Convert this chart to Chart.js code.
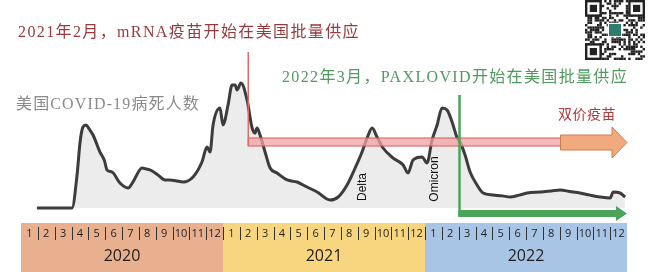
<!DOCTYPE html>
<html>
<head>
<meta charset="utf-8">
<script src="https://cdn.jsdelivr.net/npm/chart.js@4"></script>
<style>
  html, body { margin: 0; padding: 0; background: #fff; }
  canvas { display: block; }
</style>
</head>
<body>
<canvas id="deathChart" width="650" height="272"></canvas>
<script>
// x = months since Jan 2020 (0 = start of Jan 2020), y = US COVID-19 deaths per day (7-day avg)
const monthPos = [0.95, 3.03, 3.33, 3.51, 3.68, 3.86, 4.05, 4.28, 4.69, 4.95, 5.11, 5.41, 5.88, 6.36, 6.65,
  7.19, 7.45, 7.66, 8.14, 8.56, 8.85, 9.2, 9.63, 10.22, 10.75, 11.05, 11.23, 11.41, 11.82, 12.0, 12.3,
  12.54, 12.72, 12.83, 13.07, 13.43, 13.73, 13.9, 14.02, 14.2, 14.5, 14.8, 15.21, 15.81, 16.4, 16.99,
  17.59, 18.36, 18.84, 19.37, 19.85, 20.26, 20.56, 20.86, 21.15, 21.51, 22.1, 22.7, 22.99, 23.29, 23.83,
  24.12, 24.42, 24.72, 25.01, 25.31, 25.61, 25.91, 26.08, 26.38, 26.68, 27.09, 27.45, 28.04, 28.6, 29.06,
  29.6, 30.07, 30.84, 31.5, 32.03, 32.6, 33.21, 33.8, 34.4, 35.0, 35.18, 35.59, 35.89];
const deaths = [0, 0, 898, 1795, 2203, 2258, 2150, 1986, 1523, 1300, 1034, 979, 680, 544, 707,
  1088, 1060, 1034, 898, 762, 762, 740, 707, 843, 1251, 1659, 1523, 2258, 2720, 2258, 2802,
  3346, 3346, 3210, 3400, 2938, 2176, 2040, 2176, 1986, 1523, 1088, 952, 762, 707, 571,
  435, 218, 299, 626, 1088, 1523, 1904, 2176, 1931, 1632, 1360, 1170, 952, 1306, 1387,
  1224, 1850, 2258, 2720, 2666, 2339, 1904, 1795, 1442, 979, 626, 408, 354, 330, 299,
  350, 408, 435, 460, 490, 450, 408, 350, 299, 272, 435, 408, 299];

const monthLabels = ['1', '2', '3', '4', '5', '6', '7', '8', '9', '10', '11', '12'];
const yearLabels = ['2020', '2021', '2022'];
const yearColors = ['#e9b08f', '#f8d67f', '#a9c5e6'];

const mrnaStart = 13.5;      // Feb 2021
const paxlovidStart = 26.05; // Mar 2022
const bivalentStart = 32.05;
const timelineEnd = 36;

function fitText(ctx, text, x, y, width, size, family) {
  ctx.font = size + 'px ' + family;
  ctx.letterSpacing = '0px';
  const w = ctx.measureText(text).width;
  const n = [...text].length;
  const sp = (width - w) / n;
  ctx.letterSpacing = sp.toFixed(2) + 'px';
  ctx.fillText(text, x, y);
  ctx.letterSpacing = '0px';
}

function arrow(ctx, x0, x1, yc, bodyH, headH, headL, fill, stroke) {
  ctx.beginPath();
  ctx.moveTo(x0, yc - bodyH / 2);
  ctx.lineTo(x1 - headL, yc - bodyH / 2);
  ctx.lineTo(x1 - headL, yc - headH / 2);
  ctx.lineTo(x1, yc);
  ctx.lineTo(x1 - headL, yc + headH / 2);
  ctx.lineTo(x1 - headL, yc + bodyH / 2);
  ctx.lineTo(x0, yc + bodyH / 2);
  ctx.closePath();
  ctx.fillStyle = fill;
  ctx.fill();
  if (stroke) {
    ctx.strokeStyle = stroke;
    ctx.lineWidth = 1;
    ctx.stroke();
  }
}

function drawQR(ctx, x, y, size) {
  const n = 25, c = size / n;
  const seed = 'mRNA-PAXLOVID-2020-2021-2022-COVID';
  ctx.fillStyle = '#fff';
  ctx.fillRect(x, y, size, size);
  ctx.fillStyle = '#222';
  let h = 7;
  for (let r = 0; r < n; r++) {
    for (let q = 0; q < n; q++) {
      h = (h * 31 + seed.charCodeAt((r * n + q) % seed.length)) % 1009;
      if (h % 2 === 0) ctx.fillRect(x + q * c, y + r * c, c, c);
    }
  }
  const finder = (fx, fy) => {
    ctx.fillStyle = '#222'; ctx.fillRect(fx, fy, 7 * c, 7 * c);
    ctx.fillStyle = '#fff'; ctx.fillRect(fx + c, fy + c, 5 * c, 5 * c);
    ctx.fillStyle = '#222'; ctx.fillRect(fx + 2 * c, fy + 2 * c, 3 * c, 3 * c);
  };
  finder(x, y); finder(x + 18 * c, y); finder(x, y + 18 * c);
  ctx.fillStyle = '#fff';
  ctx.fillRect(x + 9.5 * c, y + 9.5 * c, 6 * c, 6 * c);
  ctx.fillStyle = '#2f7d6d';
  ctx.fillRect(x + 10 * c, y + 10 * c, 5 * c, 5 * c);
}

const decorPlugin = {
  id: 'decor',
  afterDatasetsDraw(chart) {
    const ctx = chart.ctx;
    const xs = chart.scales.x;
    const px = v => xs.getPixelForValue(v);
    ctx.save();

    // pink bar + orange arrow (vaccines)
    ctx.fillStyle = 'rgba(244, 160, 160, 0.75)';
    ctx.fillRect(px(mrnaStart), 138, px(bivalentStart) - px(mrnaStart), 8);
    ctx.strokeStyle = '#d45a5a';
    ctx.lineWidth = 1;
    ctx.strokeRect(px(mrnaStart), 138, px(bivalentStart) - px(mrnaStart), 8);
    arrow(ctx, px(bivalentStart), px(timelineEnd), 142.5, 15, 31, 15, '#f0aa7e', '#d07a4a');

    // red vertical line
    ctx.strokeStyle = '#e06a6a';
    ctx.lineWidth = 1.5;
    ctx.beginPath();
    ctx.moveTo(px(mrnaStart), 52);
    ctx.lineTo(px(mrnaStart), 146);
    ctx.stroke();

    // green line + arrow
    ctx.strokeStyle = '#4ca35a';
    ctx.lineWidth = 2.5;
    ctx.beginPath();
    ctx.moveTo(px(paxlovidStart), 95);
    ctx.lineTo(px(paxlovidStart), 217);
    ctx.stroke();
    arrow(ctx, px(paxlovidStart) - 1, px(timelineEnd), 213.5, 7, 15, 11, '#4ca35a', null);

    // timeline band
    ctx.textAlign = 'center';
    ctx.textBaseline = 'middle';
    yearLabels.forEach((yr, k) => {
      const a = px(12 * k), b = px(12 * (k + 1));
      ctx.fillStyle = yearColors[k];
      ctx.fillRect(a, 223, b - a, 49);
      ctx.fillStyle = '#1e1e1e';
      ctx.font = '16px "Open Sans", sans-serif';
      ctx.fillText(yr, (a + b) / 2, 256);
      monthLabels.forEach((m, i) => {
        const v = 12 * k + i;
        ctx.font = '11px "Open Sans", sans-serif';
        ctx.fillText(m, (px(v) + px(v + 1)) / 2, 233.5);
      });
    });
    ctx.strokeStyle = '#333';
    ctx.lineWidth = 1;
    for (let v = 1; v < 36; v++) {
      const x = Math.round(px(v)) + 0.5;
      ctx.beginPath();
      ctx.moveTo(x, 227);
      ctx.lineTo(x, 240);
      ctx.stroke();
    }

    // texts
    ctx.textAlign = 'left';
    ctx.textBaseline = 'middle';
    const fam = '"Liberation Serif", "Noto Sans CJK SC", serif';
    ctx.fillStyle = '#983a3c';
    fitText(ctx, '2021年2月，mRNA疫苗开始在美国批量供应', 18, 33, 342, 16, fam);
    ctx.fillStyle = '#4f9a5c';
    fitText(ctx, '2022年3月，PAXLOVID开始在美国批量供应', 282, 78, 346, 16, fam);
    ctx.fillStyle = '#8a8a8a';
    fitText(ctx, '美国COVID-19病死人数', 16, 105, 184, 16, fam);
    ctx.fillStyle = '#b03a3a';
    fitText(ctx, '双价疫苗', 558, 115, 58, 14, fam);

    // rotated wave labels
    ctx.fillStyle = '#111';
    ctx.font = '12px "Liberation Sans", Arial, sans-serif';
    ctx.textAlign = 'center';
    [['Delta', 363, 187], ['Omicron', 435, 179]].forEach(([t, x, y]) => {
      ctx.save();
      ctx.translate(x, y);
      ctx.rotate(-Math.PI / 2);
      ctx.fillText(t, 0, 0);
      ctx.restore();
    });

    drawQR(ctx, 585, 0, 60);
    ctx.restore();
  }
};

new Chart(document.getElementById('deathChart'), {
  type: 'line',
  data: {
    datasets: [{
      data: monthPos.map((m, i) => ({ x: m, y: deaths[i] })),
      borderColor: '#3c3c3c',
      borderWidth: 3,
      backgroundColor: '#ececec',
      fill: 'origin',
      pointRadius: 0,
      tension: 0.25,
      cubicInterpolationMode: 'monotone',
      clip: false
    }]
  },
  options: {
    responsive: false,
    animation: false,
    layout: { padding: { left: 21, right: 23, top: 0, bottom: 64 } },
    plugins: { legend: { display: false }, tooltip: { enabled: false } },
    scales: {
      x: { type: 'linear', min: 0, max: 36, display: false },
      y: { min: 0, max: 5658, display: false }
    }
  },
  plugins: [decorPlugin]
});
</script>
</body>
</html>
